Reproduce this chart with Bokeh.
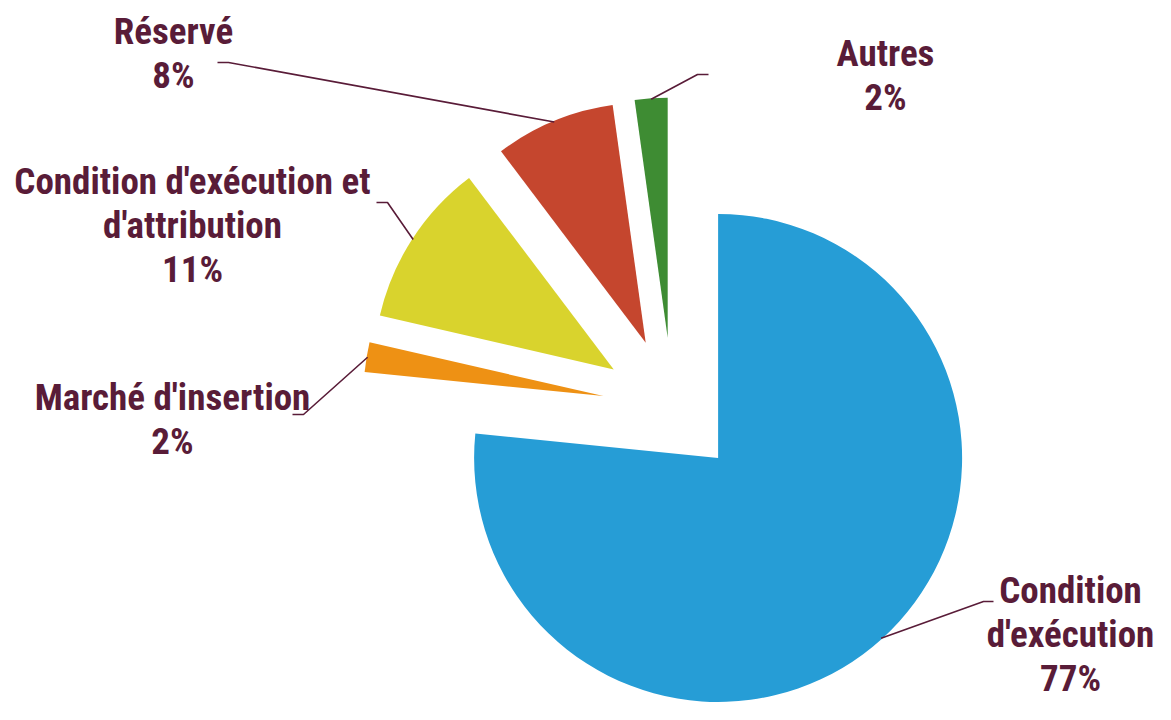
import math
from bokeh.plotting import figure
from bokeh.models import ColumnDataSource, Range1d
from bokeh.core.properties import value
from bokeh.embed import file_html
from bokeh.resources import INLINE

# ---- data ----
categories = ["Condition\nd'exécution", "Marché d'insertion",
              "Condition d'exécution et\nd'attribution", "Réservé", "Autres"]
shares = [76.6, 2.0, 11.1, 8.1, 2.2]
colors = ["#269dd6", "#ee9114", "#d9d32d", "#c5462e", "#3e8c33"]

# ---- layout (pixels, origin at top-left of the chart) ----
W, H = 1155, 704
REF_H = 720
center_screen = (672, 407)
explode = [68, 70, 70, 70, 70]
radii = [244, 240, 240, 240, 240]
# label center x, first baseline y, elbow (x, y), leader end x
label_cx = [1070, 172, 192, 173, 885]
label_y0 = [602, 409, 193, 43, 65]
elbow = [(983, 601), (303, 414), (387, 202), (228, 62), (697, 74)]
leader_end_x = [993, 292, 376, 217, 708]
line_gap = 44
baseline_fix = 12
text_color = "#591c38"
FONT = "'Roboto Condensed', 'Liberation Sans Narrow', 'DejaVu Sans Condensed', Roboto"


def sy(y):
    return REF_H - y


p = figure(width=W, height=H, output_backend="svg", toolbar_location=None,
           x_range=Range1d(0, W), y_range=Range1d(REF_H - H, REF_H),
           min_border=0)
p.axis.visible = False
p.grid.visible = False
p.outline_line_color = None
p.background_fill_color = "white"
p.border_fill_color = "white"

cx, cy = center_screen[0], sy(center_screen[1])
total = sum(shares)
cum = 0.0
wx, wy, sa, ea = [], [], [], []
lx, ly = [], []
for i, v in enumerate(shares):
    a0 = math.pi / 2 - 2 * math.pi * cum / total
    a1 = math.pi / 2 - 2 * math.pi * (cum + v) / total
    mid = (a0 + a1) / 2
    ox = cx + explode[i] * math.cos(mid)
    oy = cy + explode[i] * math.sin(mid)
    wx.append(ox)
    wy.append(oy)
    sa.append(a1)
    ea.append(a0)
    lx.append(ox + (radii[i] - 1) * math.cos(mid))
    ly.append(oy + (radii[i] - 1) * math.sin(mid))
    cum += v

src = ColumnDataSource(dict(x=wx, y=wy, r=radii, start=sa, end=ea, color=colors))
p.wedge(x="x", y="y", radius="r", start_angle="start", end_angle="end",
        direction="anticlock", fill_color="color", line_color=None, source=src)

# leader lines
xs, ys = [], []
for i in range(len(shares)):
    ex, ey = elbow[i]
    xs.append([lx[i], ex, leader_end_x[i]])
    ys.append([ly[i], sy(ey), sy(ey)])
p.multi_line(xs=xs, ys=ys, line_color=text_color, line_width=1.6)

# labels
tx, ty, tt = [], [], []
for i, (name, v) in enumerate(zip(categories, shares)):
    lines = name.split("\n") + [f"{round(v)}%"]
    for k, t in enumerate(lines):
        tx.append(label_cx[i])
        ty.append(sy(label_y0[i] + k * line_gap - baseline_fix))
        tt.append(t)
p.text(x=tx, y=ty, text=tt, text_font=value(FONT), text_font_size="37px",
       text_font_style="bold", text_color=text_color, text_align="center",
       text_baseline="alphabetic")

open("out.html", "w").write(file_html(p, INLINE))
